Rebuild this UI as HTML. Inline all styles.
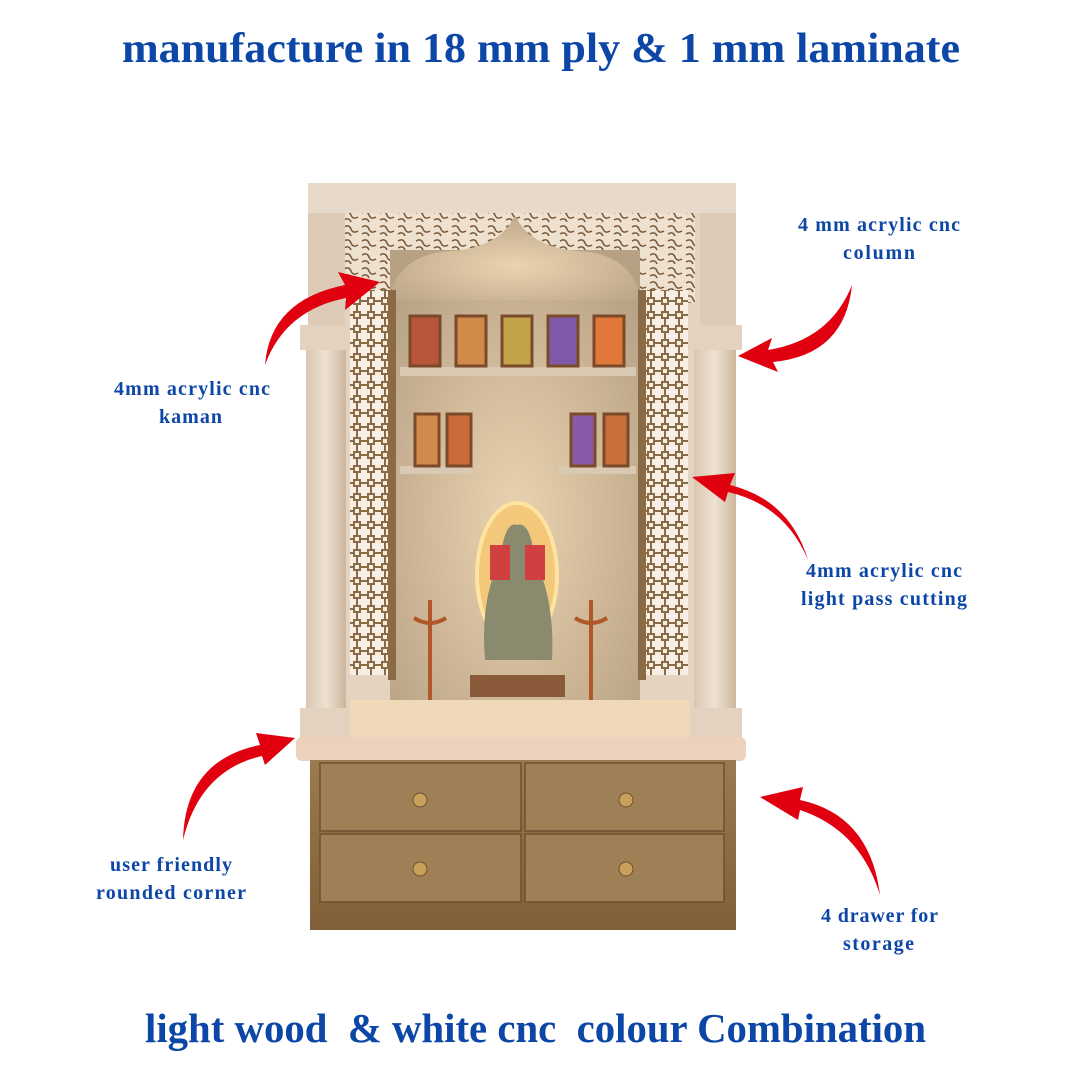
<!DOCTYPE html>
<html><head><style>
body{margin:0;width:1080px;height:1080px;background:#fff;overflow:hidden}
</style></head><body>
<svg width="1080" height="1080" xmlns="http://www.w3.org/2000/svg" font-family="Liberation Serif, serif" font-weight="bold" fill="#0c46a6">
<defs>
<pattern id="jali" width="14" height="14" patternUnits="userSpaceOnUse">
<rect width="14" height="14" fill="#f6eee2"/>
<path d="M0 7h4M10 7h4M7 0v4M7 10v4M4 4h6v6h-6z" stroke="#8a6a45" stroke-width="2" fill="none"/>
</pattern>
<pattern id="jali2" width="18" height="14" patternUnits="userSpaceOnUse">
<rect width="18" height="14" fill="#efe1cf"/>
<path d="M2 3q5-3 7 2t7 2M2 10q5-3 7 2" stroke="#7a5a3a" stroke-width="1.6" fill="none"/>
</pattern>
<linearGradient id="col" x1="0" x2="1"><stop offset="0" stop-color="#d9c6b0"/><stop offset=".5" stop-color="#efe2d2"/><stop offset="1" stop-color="#cbb59c"/></linearGradient>
<radialGradient id="back" cx=".5" cy=".6" r=".7"><stop offset="0" stop-color="#e9d3b0"/><stop offset="1" stop-color="#b7a184"/></radialGradient>
<linearGradient id="wood" x1="0" y1="0" x2="0" y2="1"><stop offset="0" stop-color="#9a7a4e"/><stop offset="1" stop-color="#7f6038"/></linearGradient>
</defs>
<text x="122" y="62" font-size="42" textLength="838" lengthAdjust="spacingAndGlyphs">manufacture in 18 mm ply &amp; 1 mm laminate</text>
<text x="145" y="1042" font-size="41" textLength="781" lengthAdjust="spacingAndGlyphs" xml:space="preserve">light wood  &amp; white cnc  colour Combination</text>

<rect x="308" y="183" width="428" height="560" fill="#e3d3c0"/>
<rect x="308" y="183" width="428" height="30" fill="#e8dacb"/>
<rect x="345" y="213" width="350" height="90" fill="url(#jali2)"/>
<rect x="390" y="250" width="250" height="450" fill="url(#back)"/>
<path d="M390 300 Q395 260 440 252 Q500 250 515 215 Q530 250 590 252 Q635 260 640 300 Z" fill="url(#back)"/>
<rect x="350" y="290" width="40" height="385" fill="url(#jali)"/>
<rect x="645" y="290" width="43" height="385" fill="url(#jali)"/>
<rect x="388" y="290" width="8" height="390" fill="#8a6a45"/>
<rect x="638" y="290" width="8" height="390" fill="#8a6a45"/>
<rect x="400" y="367" width="236" height="9" fill="#d9c8b2"/>
<rect x="400" y="466" width="72" height="8" fill="#d9c8b2"/>
<rect x="558" y="466" width="78" height="8" fill="#d9c8b2"/>
<g stroke="#7a4a2a" stroke-width="3">
<rect x="410" y="316" width="30" height="50" fill="#b8553a"/>
<rect x="456" y="316" width="30" height="50" fill="#d08a4a"/>
<rect x="502" y="316" width="30" height="50" fill="#c4a24a"/>
<rect x="548" y="316" width="30" height="50" fill="#7e5aa8"/>
<rect x="594" y="316" width="30" height="50" fill="#e0783a"/>
<rect x="415" y="414" width="24" height="52" fill="#d08a4a"/>
<rect x="447" y="414" width="24" height="52" fill="#c86a3a"/>
<rect x="571" y="414" width="24" height="52" fill="#8a5aa8"/>
<rect x="604" y="414" width="24" height="52" fill="#c8703a"/>
</g>
<ellipse cx="517" cy="575" rx="40" ry="72" fill="#f3c87a" stroke="#ffe3a0" stroke-width="4"/>
<path d="M485 660 Q480 600 500 560 Q505 520 517 525 Q530 520 535 560 Q555 600 552 660 Z" fill="#8a8a6e"/>
<rect x="470" y="675" width="95" height="22" fill="#8a5a3a"/>
<rect x="490" y="545" width="20" height="35" fill="#d04040"/>
<rect x="525" y="545" width="20" height="35" fill="#d04040"/>
<g stroke="#b0582a" stroke-width="4" fill="#c0602a">
<line x1="430" y1="600" x2="430" y2="725"/><line x1="591" y1="600" x2="591" y2="725"/>
<ellipse cx="430" cy="725" rx="14" ry="6"/><ellipse cx="591" cy="725" rx="14" ry="6"/>
<path d="M414 618 Q430 628 446 618" fill="none"/><path d="M575 618 Q591 628 607 618" fill="none"/>
</g>
<rect x="300" y="325" width="50" height="25" fill="#e2d2bf"/>
<rect x="306" y="350" width="40" height="360" fill="url(#col)"/>
<rect x="300" y="708" width="52" height="32" fill="#e2d2bf"/>
<rect x="688" y="325" width="54" height="25" fill="#e2d2bf"/>
<rect x="694" y="350" width="42" height="360" fill="url(#col)"/>
<rect x="688" y="708" width="54" height="32" fill="#e2d2bf"/>
<rect x="308" y="213" width="37" height="112" fill="#ddcbb7"/>
<rect x="700" y="213" width="36" height="112" fill="#ddcbb7"/>
<rect x="350" y="700" width="340" height="40" fill="#f0d9b8"/>
<rect x="296" y="737" width="450" height="24" rx="6" fill="#ecd2bc"/>
<rect x="310" y="760" width="426" height="170" fill="url(#wood)"/>
<g fill="#9f7f55" stroke="#6d5030" stroke-width="1.5">
<rect x="320" y="763" width="201" height="68"/><rect x="525" y="763" width="199" height="68"/>
<rect x="320" y="834" width="201" height="68"/><rect x="525" y="834" width="199" height="68"/>
</g>
<g fill="#c8a05a" stroke="#6d5030"><circle cx="420" cy="800" r="7"/><circle cx="626" cy="800" r="7"/><circle cx="420" cy="869" r="7"/><circle cx="626" cy="869" r="7"/></g>

<g fill="#e0000f">
<path d="M265 365 Q270 300 345 285 L338 272 L380 282 L345 310 L346 298 Q285 310 265 365 Z"/>
<path d="M852 285 Q830 340 768 350 L772 338 L738 356 L778 372 L773 362 Q845 355 852 285 Z"/>
<path d="M808 560 Q790 500 730 485 L735 473 L692 477 L725 502 L728 492 Q785 505 808 560 Z"/>
<path d="M183 840 Q185 760 260 745 L256 733 L295 738 L265 765 L262 756 Q200 770 183 840 Z"/>
<path d="M880 895 Q870 815 800 800 L803 787 L760 797 L798 820 L800 810 Q860 830 880 895 Z"/>
</g>

<g font-size="20" lengthAdjust="spacingAndGlyphs">
<text x="798" y="231" textLength="162">4 mm acrylic cnc</text><text x="843" y="259" textLength="72">column</text>
<text x="114" y="395" textLength="156">4mm acrylic cnc</text><text x="159" y="423" textLength="63">kaman</text>
<text x="806" y="577" textLength="156">4mm acrylic cnc</text><text x="801" y="605" textLength="166">light pass cutting</text>
<text x="110" y="871" textLength="122">user friendly</text><text x="96" y="899" textLength="150">rounded corner</text>
<text x="821" y="922" textLength="117">4 drawer for</text><text x="843" y="950" textLength="71">storage</text>
</g>
</svg>
</body></html>
